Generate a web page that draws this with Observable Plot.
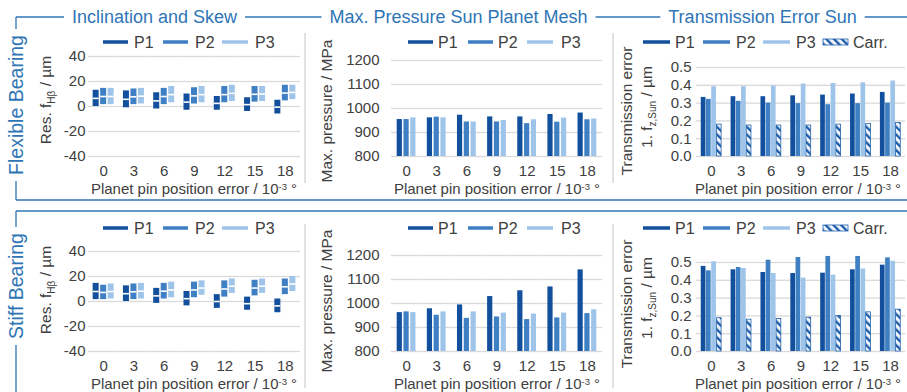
<!DOCTYPE html>
<html><head><meta charset="utf-8">
<script src="https://cdn.jsdelivr.net/npm/d3@7"></script>
<script src="https://cdn.jsdelivr.net/npm/@observablehq/plot@0.6"></script>
<style>
body{margin:0;background:#fff;}
#root{position:relative;width:907px;height:392px;overflow:hidden;font-family:"Liberation Sans",Arial,sans-serif;background:#fff;}
</style></head><body><div id="root"></div>
<script>
// ---------- data ----------
const positions = [0, 3, 6, 9, 12, 15, 18];
const planets = ["P1", "P2", "P3"];
const teSeries = ["P1", "P2", "P3", "Carr."];
const seriesColors = ["#12509d", "#3f7fc3", "#9fc4ea"];
const columnTitles = ["Inclination and Skew", "Max. Pressure Sun Planet Mesh", "Transmission Error Sun"];
const rowTitles = ["Flexible Bearing", "Stiff Bearing"];

// Inclination and skew: residual f_Hβ range [low, high] in µm
const incFlexP1 = [[0,13],[-1,12.5],[-2,11],[-3,10],[-3,8],[-4,7],[-6,5]];
const incFlexP2 = [[1.5,14.5],[1.5,14],[1.5,14.5],[2,15],[3,16],[3.5,16],[4.5,17]];
const incFlexP3 = [[1.5,14.5],[2,14.5],[3,16],[3,16],[4,17],[4,16],[5.5,17]];
const incStiffP1 = [[1.5,14.5],[0,12.5],[-1.5,10.5],[-3.5,8],[-5.5,5.5],[-7,3.5],[-9,2]];
const incStiffP2 = [[1.5,13],[1.5,14],[2,14.5],[3,15.5],[3.5,16.5],[4.5,17],[5.5,18]];
const incStiffP3 = [[2,14],[2,14.5],[3,15.5],[5,16.5],[6.5,18],[6.5,18],[8,20]];

// Max. pressure sun-planet mesh in MPa
const presFlexP1 = [954, 961, 972, 965, 965, 975, 981];
const presFlexP2 = [954, 964, 944, 944, 937, 943, 953];
const presFlexP3 = [961, 961, 944, 950, 953, 960, 956];
const presStiffP1 = [962, 978, 994, 1029, 1053, 1069, 1140];
const presStiffP2 = [965, 951, 938, 944, 933, 940, 958];
const presStiffP3 = [962, 965, 965, 960, 956, 960, 974];

// Transmission error sun, 1st order, in µm
const teFlexP1 = [0.332, 0.336, 0.336, 0.341, 0.345, 0.351, 0.360];
const teFlexP2 = [0.321, 0.310, 0.300, 0.297, 0.291, 0.297, 0.300];
const teFlexP3 = [0.392, 0.392, 0.396, 0.407, 0.410, 0.414, 0.424];
const teFlexCarr = [0.179, 0.174, 0.174, 0.174, 0.179, 0.183, 0.188];
const teStiffP1 = [0.478, 0.459, 0.444, 0.438, 0.440, 0.459, 0.485];
const teStiffP2 = [0.453, 0.472, 0.513, 0.528, 0.534, 0.534, 0.526];
const teStiffP3 = [0.504, 0.466, 0.438, 0.412, 0.429, 0.463, 0.507];
const teStiffCarr = [0.187, 0.179, 0.183, 0.190, 0.200, 0.220, 0.235];

// axis ticks
const incTicks = [-40, -20, 0, 20, 40];
const presTicks = [800, 900, 1000, 1100, 1200];
const teTicks = [0, 0.1, 0.2, 0.3, 0.4, 0.5];

// ---------- helpers ----------
const toRanges = arrs => arrs.flatMap((arr, i) => arr.map((r, j) => ({pos: positions[j], series: planets[i], lo: r[0], hi: r[1]})));
const toValues = (arrs, names) => arrs.flatMap((arr, i) => arr.map((v, j) => ({pos: positions[j], series: names[i], value: v})));

const root = document.getElementById("root");
const NS = "http://www.w3.org/2000/svg";
const FONT = "Liberation Sans, Arial, sans-serif";
const BLUE = "#2E75B6";
const TXT = "#404040";

// pattern defs
const defs = document.createElementNS(NS, "svg");
defs.setAttribute("width", 0); defs.setAttribute("height", 0);
defs.style.position = "absolute";
defs.innerHTML = `<defs><pattern id="carrHatch" patternUnits="userSpaceOnUse" width="5.5" height="5.5" patternTransform="rotate(-45)">
<rect width="5.5" height="5.5" fill="#f4f8fd"/><rect width="2.3" height="5.5" fill="#1a5aa8"/></pattern></defs>`;
root.appendChild(defs);

function panel({x0, x1, y0, y1, yDomain, yTicks, yFmt, tickPad, series, pi, po, marks}) {
  const ml = 60, mr = 2, mt = 4, mb = 30;
  const svg = Plot.plot({
    width: x1 - x0 + ml + mr, height: y1 - y0 + mt + mb,
    marginLeft: ml, marginRight: mr, marginTop: mt, marginBottom: mb,
    style: {fontSize: "15px", fontFamily: FONT, color: TXT, background: "transparent", overflow: "visible"},
    fx: {domain: positions, padding: 0, round: false, label: null, tickSize: 0, tickPadding: 9, axis: "bottom"},
    x: {domain: series, paddingInner: pi, paddingOuter: po, round: false, axis: null},
    y: {domain: yDomain, ticks: yTicks, tickFormat: yFmt, tickSize: 0, tickPadding: tickPad, label: null},
    color: {domain: planets, range: seriesColors},
    marks: [Plot.gridY(yTicks, {stroke: "#d9d9d9", strokeOpacity: 1, strokeWidth: 1.3}), ...marks]
  });
  svg.style.position = "absolute";
  svg.style.left = (x0 - ml) + "px";
  svg.style.top = (y0 - mt) + "px";
  root.appendChild(svg);
}

const rows = [
  {dy: 0, inc: toRanges([incFlexP1, incFlexP2, incFlexP3]),
   pres: toValues([presFlexP1, presFlexP2, presFlexP3], planets),
   te: toValues([teFlexP1, teFlexP2, teFlexP3, teFlexCarr], teSeries)},
  {dy: 195, inc: toRanges([incStiffP1, incStiffP2, incStiffP3]),
   pres: toValues([presStiffP1, presStiffP2, presStiffP3], planets),
   te: toValues([teStiffP1, teStiffP2, teStiffP3, teStiffCarr], teSeries)}
];

for (const r of rows) {
  panel({x0: 88, x1: 300, y0: 56 + r.dy, y1: 156 + r.dy, yDomain: [incTicks[0], incTicks[incTicks.length - 1]],
    yTicks: incTicks, yFmt: d => String(d), tickPad: 3, series: planets, pi: 0.2, po: 0.62,
    marks: [
      Plot.barY(r.inc, {fx: "pos", x: "series", y1: "lo", y2: "hi", fill: "series"}),
      Plot.tickY(r.inc, {fx: "pos", x: "series", y: d => (d.lo + d.hi) / 2, stroke: "white", strokeWidth: 1.6})
    ]});
  panel({x0: 391, x1: 602, y0: 60 + r.dy, y1: 156 + r.dy, yDomain: [presTicks[0], presTicks[presTicks.length - 1]],
    yTicks: presTicks, yFmt: d => String(d), tickPad: 12, series: planets, pi: 0.235, po: 0.836,
    marks: [
      Plot.barY(r.pres, {fx: "pos", x: "series", y1: presTicks[0], y2: "value", fill: "series"})
    ]});
  panel({x0: 696, x1: 905, y0: 67 + r.dy, y1: 156 + r.dy, yDomain: [teTicks[0], teTicks[teTicks.length - 1]],
    yTicks: teTicks, yFmt: d3.format(".1f"), tickPad: 5, series: teSeries, pi: 0.1, po: 0.91,
    marks: [
      Plot.barY(r.te.filter(d => d.series !== "Carr."), {fx: "pos", x: "series", y: "value", fill: "series"}),
      Plot.barY(r.te.filter(d => d.series === "Carr."), {fx: "pos", x: "series", y: "value", fill: "url(#carrHatch)", stroke: "#2263ad", strokeWidth: 0.8})
    ]});
}

// ---------- overlay: frames, titles, legends ----------
const ov = document.createElementNS(NS, "svg");
ov.setAttribute("width", 907); ov.setAttribute("height", 392);
ov.style.cssText = `position:absolute;left:0;top:0;pointer-events:none;font-family:${FONT}`;
root.appendChild(ov);
function el(tag, attrs, parent = ov) {
  const e = document.createElementNS(NS, tag);
  for (const k in attrs) e.setAttribute(k, attrs[k]);
  parent.appendChild(e);
  return e;
}
function txt(parts, attrs) {
  const t = el("text", attrs);
  for (const p of parts) {
    if (typeof p === "string") t.appendChild(document.createTextNode(p));
    else { const s = el("tspan", p.a, t); s.textContent = p.t; }
  }
  return t;
}
const line = (x1, y1, x2, y2, stroke = BLUE, w = 1.3) => el("line", {x1, y1, x2, y2, stroke, "stroke-width": w});

// column titles + top frame line
const titleX = [154.5, 458.5, 762.5];
const tb = columnTitles.map((s, i) => {
  const t = txt([s], {x: titleX[i], y: 17, dy: "0.35em", "text-anchor": "middle", "font-size": 18, fill: BLUE});
  const w = t.getComputedTextLength();
  return [titleX[i] - w / 2, titleX[i] + w / 2];
});
let cx = 16;
for (const [a, b] of tb) { line(cx, 17, a - 8, 17); cx = b + 8; }
line(cx, 17, 907, 17);
line(16, 200, 907, 200);
line(16, 211, 907, 211);

// row titles + left frame lines
const rowSpecs = [{cy: 105, top: 17, bottom: 200}, {cy: 286, top: 211, bottom: 392}];
rowTitles.forEach((s, i) => {
  const {cy, top, bottom} = rowSpecs[i];
  const t = txt([s], {x: 16, y: cy, dy: "0.35em", "text-anchor": "middle", "font-size": 19.5, fill: BLUE, transform: `rotate(-90 16 ${cy})`});
  const w = t.getComputedTextLength();
  line(16, top, 16, cy - w / 2 - 6);
  line(16, cy + w / 2 + 6, 16, bottom);
});

// grey separators
for (const [ya, yb] of [[33, 183], [224, 388]]) {
  line(305, ya, 305, yb, "#d9d9d9", 1.5);
  line(613, ya, 613, yb, "#d9d9d9", 1.5);
}

// legends
const legendP = [
  [{x0: 103, x1: 128, tx: 134}, {x0: 163, x1: 188, tx: 195}, {x0: 222, x1: 248, tx: 255}],
  [{x0: 408, x1: 433, tx: 438}, {x0: 468, x1: 493, tx: 498}, {x0: 527, x1: 553, tx: 561}],
  [{x0: 643, x1: 670, tx: 675}, {x0: 703, x1: 730, tx: 736}, {x0: 763, x1: 790, tx: 796}, {x0: 823, x1: 848, tx: 853}]
];
for (const ly of [42, 228]) {
  legendP.forEach((items, pi) => {
    items.forEach((it, k) => {
      const name = pi === 2 ? teSeries[k] : planets[k];
      if (name === "Carr.") {
        el("rect", {x: it.x0, y: ly - 3, width: it.x1 - it.x0, height: 6, fill: "url(#carrHatch)", stroke: "#2263ad", "stroke-width": 0.8});
      } else {
        line(it.x0, ly, it.x1, ly, seriesColors[k], 3.5);
      }
      txt([name], {x: it.tx, y: ly, dy: "0.35em", "font-size": 16, fill: TXT});
    });
  });
}

// axis titles
const sub = (t) => ({t, a: {"font-size": 10, dy: 4}});
const back = (t) => ({t, a: {dy: -4}});
for (const o of [0, 1]) {
  const yT = [100, 290][o], yP = [111, 301][o], yA = [111, 304][o], yB = [107, 298][o], yX = [189, 384][o];
  txt(["Res. f", sub("Hβ"), back(" / µm")], {x: 46, y: yT, dy: "0.35em", "text-anchor": "middle", "font-size": 15.5, fill: TXT, transform: `rotate(-90 46 ${yT})`});
  txt(["Max. pressure / MPa"], {x: 327, y: yP, dy: "0.35em", "text-anchor": "middle", "font-size": 15.5, fill: TXT, transform: `rotate(-90 327 ${yP})`});
  txt(["Transmission error"], {x: 627, y: yA, dy: "0.35em", "text-anchor": "middle", "font-size": 15.5, fill: TXT, transform: `rotate(-90 627 ${yA})`});
  txt(["1. f", sub("z,Sun"), back(" / µm")], {x: 647, y: yB, dy: "0.35em", "text-anchor": "middle", "font-size": 15.5, fill: TXT, transform: `rotate(-90 647 ${yB})`});
  for (const xc of [194, 497, 798]) {
    txt(["Planet pin position error / 10", {t: "-3", a: {"font-size": 9.5, dy: -4.5}}, {t: " °", a: {dy: 4.5}}],
      {x: xc, y: yX, dy: "0.35em", "text-anchor": "middle", "font-size": 15, fill: TXT});
  }
}
</script></body></html>
